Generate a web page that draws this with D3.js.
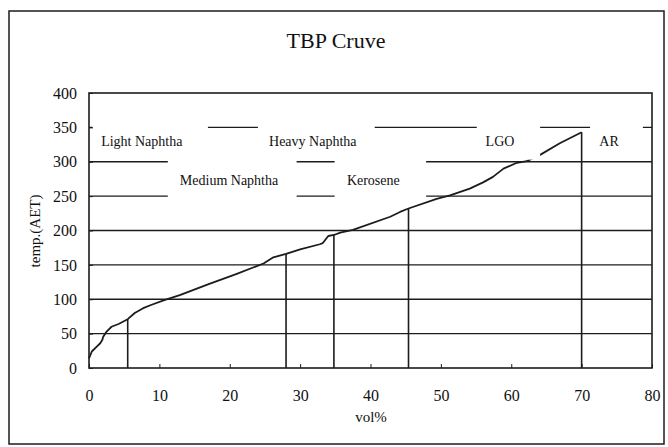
<!DOCTYPE html>
<html>
<head>
<meta charset="utf-8">
<script src="https://cdn.jsdelivr.net/npm/d3@7"></script>
<style>
  body { margin: 0; background: #fff; }
  text { font-family: "Liberation Serif", "Times New Roman", serif; fill: #111; }
</style>
</head>
<body>
<div id="viz"></div>
<script>
// TBP curve: vol% vs temperature
var volPct = [0, 0.4, 1.1, 1.6, 1.9, 2.0, 2.5, 3.2, 4.2, 5.5, 6.5, 7.7, 8.9, 10.8, 12.9, 17, 21, 24.8, 26.2, 28, 30, 32.8, 33.2, 34, 34.8, 35.7, 37.5, 42.8, 44.2, 45.4, 49.4, 51.3, 54.1, 56, 57.4, 58.9, 60.8, 62.2, 64.1, 66.9, 70];
var temp   = [14, 24, 31, 36, 41, 45, 53, 60, 64, 71, 80, 87, 92, 99, 106, 122, 137, 152, 161, 166, 172.5, 180, 181.5, 192, 193.5, 197, 201, 220, 227, 232, 246, 251, 261, 270, 278, 290, 298.5, 301, 310, 327, 343];

// cut points between fractions
var cutVols = [5.5, 28, 34.8, 45.4, 70];

var xTicks = [0, 10, 20, 30, 40, 50, 60, 70, 80];
var yTicks = [0, 50, 100, 150, 200, 250, 300, 350, 400];
var gridTemps = [50, 100, 150, 200, 250, 300, 350];

// fraction labels and the white text boxes behind them (vol% / temp units)
var fracNames = ["Light Naphtha", "Heavy Naphtha", "LGO", "AR", "Medium Naphtha", "Kerosene"];
var fracX     = [7.5, 31.8, 58.4, 73.9, 19.9, 40.4];
var fracY     = [330, 330, 330, 330, 273, 273];
var boxX0     = [0.5, 24.0, 55.1, 71.2, 11.2, 34.9];
var boxX1     = [16.9, 40.6, 64.1, 78.7, 29.5, 47.9];
var boxY0     = [303, 303, 303, 303, 245, 245];
var boxY1     = [385, 385, 385, 385, 306, 306];

var W = 668, H = 447;
var m = { top: 93, right: 16, bottom: 79, left: 89 };
var ink = "#1c1c1c";

var svg = d3.select("#viz").append("svg")
    .attr("width", W)
    .attr("height", H);

var x = d3.scaleLinear().domain([0, 80]).range([m.left, W - m.right]);
var y = d3.scaleLinear().domain([0, 400]).range([H - m.bottom, m.top]);

// outer frame
svg.append("rect")
    .attr("x", 9).attr("y", 11)
    .attr("width", 655).attr("height", 433)
    .attr("fill", "none").attr("stroke", ink).attr("stroke-width", 1.5);

svg.append("text")
    .attr("x", 336).attr("y", 48)
    .attr("text-anchor", "middle")
    .style("font-size", "22px")
    .text("TBP Cruve");

// horizontal grid
svg.append("g").selectAll("line")
    .data(gridTemps)
    .enter().append("line")
        .attr("x1", x(0)).attr("x2", x(80))
        .attr("y1", function(d) { return y(d); })
        .attr("y2", function(d) { return y(d); })
        .attr("stroke", ink).attr("stroke-width", 1.3);

var pts = volPct.map(function(v, i) { return [v, temp[i]]; });

var line = d3.line()
    .x(function(d) { return x(d[0]); })
    .y(function(d) { return y(d[1]); });

svg.append("path")
    .datum(pts)
    .attr("d", line)
    .attr("fill", "none")
    .attr("stroke", ink)
    .attr("stroke-width", 1.8)
    .attr("stroke-linejoin", "round");

// vertical cut lines up to the curve
function tempAt(v) {
    var i = d3.bisectLeft(volPct, v);
    if (i <= 0) return temp[0];
    if (i >= volPct.length) return temp[temp.length - 1];
    var t = (v - volPct[i - 1]) / (volPct[i] - volPct[i - 1]);
    return temp[i - 1] + t * (temp[i] - temp[i - 1]);
}

svg.append("g").selectAll("line")
    .data(cutVols)
    .enter().append("line")
        .attr("x1", function(d) { return x(d); })
        .attr("x2", function(d) { return x(d); })
        .attr("y1", y(0))
        .attr("y2", function(d) { return y(tempAt(d)); })
        .attr("stroke", ink).attr("stroke-width", 1.6);

// label boxes (white, they hide grid and part of the curve)
var labels = fracNames.map(function(n, i) {
    return { name: n, x: fracX[i], y: fracY[i], x0: boxX0[i], x1: boxX1[i], y0: boxY0[i], y1: boxY1[i] };
});

svg.append("g").selectAll("rect")
    .data(labels)
    .enter().append("rect")
        .attr("x", function(d) { return x(d.x0); })
        .attr("y", function(d) { return y(d.y1); })
        .attr("width", function(d) { return x(d.x1) - x(d.x0); })
        .attr("height", function(d) { return y(d.y0) - y(d.y1); })
        .attr("fill", "#fff");

svg.append("g").selectAll("text")
    .data(labels)
    .enter().append("text")
        .attr("x", function(d) { return x(d.x); })
        .attr("y", function(d) { return y(d.y); })
        .attr("dy", "0.35em")
        .attr("text-anchor", "middle")
        .style("font-size", "14px")
        .text(function(d) { return d.name; });

// plot frame
svg.append("rect")
    .attr("x", x(0)).attr("y", y(400))
    .attr("width", x(80) - x(0)).attr("height", y(0) - y(400))
    .attr("fill", "none").attr("stroke", ink).attr("stroke-width", 1.6);

// axes
var xAxis = svg.append("g")
    .attr("transform", "translate(0," + y(0) + ")")
    .call(d3.axisBottom(x).tickValues(xTicks).tickSize(-4).tickPadding(22));
var yAxis = svg.append("g")
    .attr("transform", "translate(" + x(0) + ",0)")
    .call(d3.axisLeft(y).tickValues(yTicks).tickSize(-4).tickPadding(12));

[xAxis, yAxis].forEach(function(a) {
    a.select(".domain").remove();
    a.selectAll("line").attr("stroke", ink);
    a.selectAll("text")
        .style("font-family", "'Liberation Serif', serif")
        .style("font-size", "16px")
        .attr("fill", "#111");
});

svg.append("text")
    .attr("transform", "translate(40,231) rotate(-90)")
    .attr("text-anchor", "middle")
    .style("font-size", "15px")
    .text("temp.(AET)");

svg.append("text")
    .attr("x", 371).attr("y", 422)
    .attr("text-anchor", "middle")
    .style("font-size", "15px")
    .text("vol%");
</script>
</body>
</html>
